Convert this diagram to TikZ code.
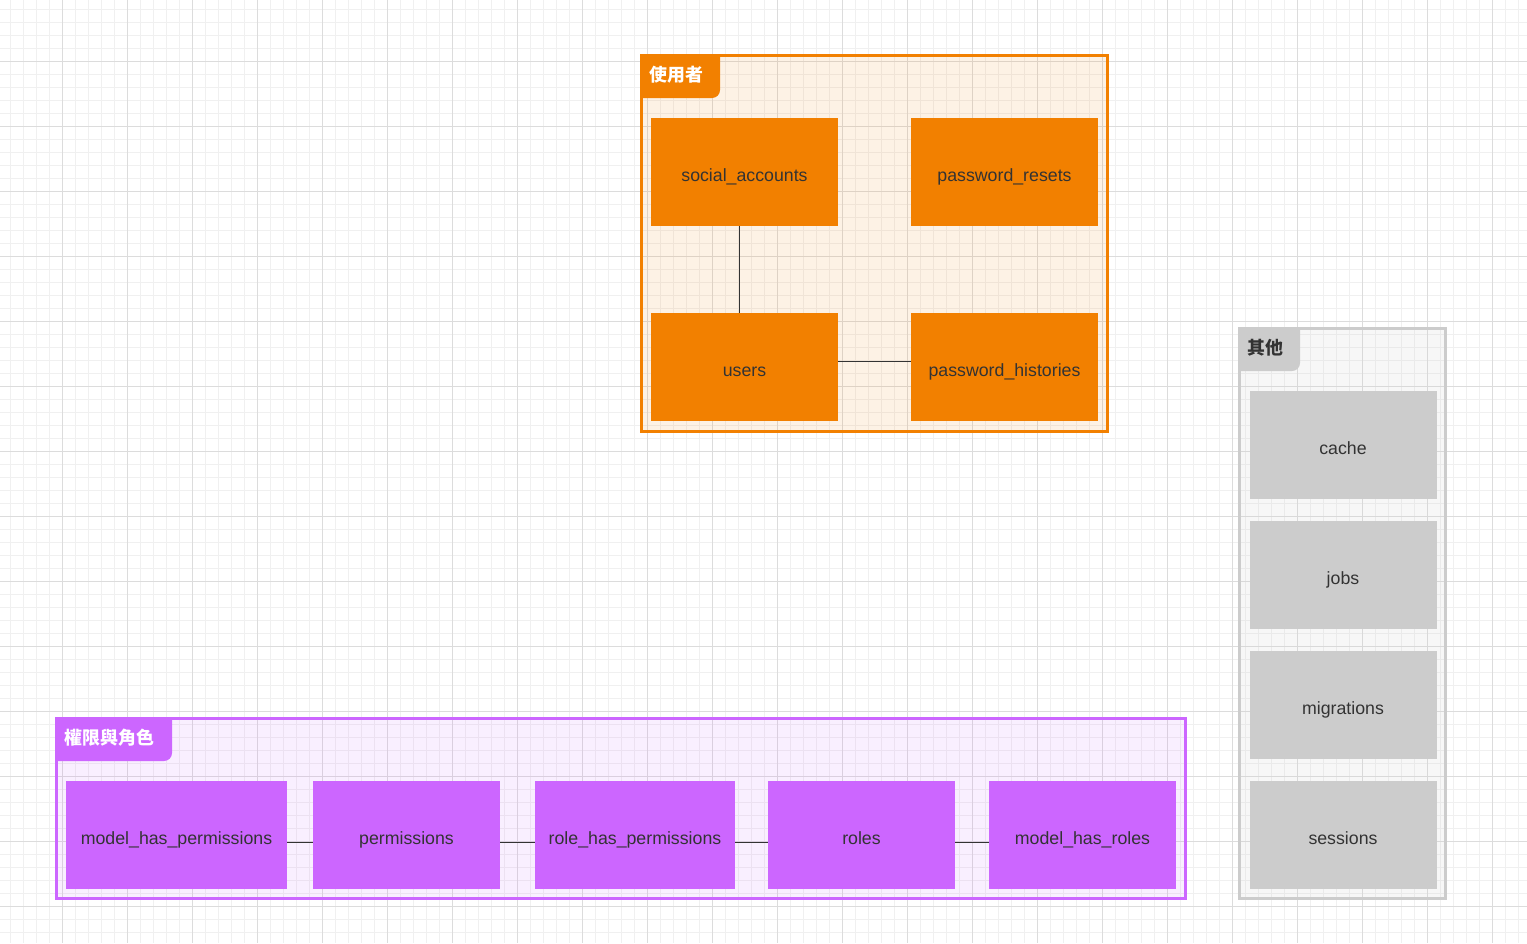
\documentclass[tikz,border=0pt]{standalone}
\usepackage{fontspec}
\setmainfont{Liberation Sans}
\newfontfamily\cjk{Noto Sans CJK TC}
\usepackage{xcolor}
\usetikzlibrary{calc}
\definecolor{userorange}{HTML}{F28000}
\definecolor{permpurple}{HTML}{CC66FF}
\definecolor{othergrey}{HTML}{CCCCCC}
\definecolor{labeltext}{HTML}{333333}
\definecolor{gridminor}{HTML}{F0F0F0}
\definecolor{gridmajor}{HTML}{DCDCDC}
\tikzset{
  tablebox/.style={rectangle,inner sep=0pt,minimum width=3.74cm,minimum height=2.16cm,
    text height=11.5pt,text depth=0.5pt,text=labeltext,font=\fontsize{10.1}{12}\selectfont},
  usertable/.style={tablebox,fill=userorange},
  permtable/.style={tablebox,fill=permpurple},
  othertable/.style={tablebox,fill=othergrey},
  groupframe/.style={line width=1.7pt},
  tablabel/.style={anchor=west,inner sep=0pt,font=\cjk\bfseries\fontsize{10.2}{12}\selectfont},
  link/.style={draw=labeltext,line width=0.55pt}
}

\begin{document}
\begin{tikzpicture}[x=0.02cm,y=-0.02cm]
\useasboundingbox (0,0) rectangle (1527,943);
\fill[white] (0,0) rectangle (1527,943);
\foreach \x in {10.3,23.3,...,1527} \draw[gridminor,line width=0.5pt] (\x,0) -- (\x,943);
\foreach \y in {9,22,...,943} \draw[gridminor,line width=0.5pt] (0,\y) -- (1527,\y);
\foreach \x in {62.3,127.3,...,1527} \draw[gridmajor,line width=0.5pt] (\x,0) -- (\x,943);
\foreach \y in {61,126,...,943} \draw[gridmajor,line width=0.5pt] (0,\y) -- (1527,\y);

\draw[groupframe,draw=userorange,fill=userorange,fill opacity=0.1] (641.5,55.5) rectangle (1107.5,431.5);
\fill[userorange] (640,54) -- (720,54) -- (720,80) [rounded corners=0.16cm] -- (720,98) -- (700,98) [sharp corners] -- (640,98) -- cycle;
\node[tablabel,text=white] (usertab) at (649,75) {使用者};
\node[usertable] (social) at (744.5,172) {social\_accounts};
\node[usertable] (resets) at (1004.5,172) {password\_resets};
\node[usertable] (users) at (744.5,367) {users};
\node[usertable] (histories) at (1004.5,367) {password\_histories};
\draw[link] ([xshift=-0.11cm]social.south) -- ([xshift=-0.11cm]users.north);
\draw[link] ([yshift=0.12cm]users.east) -- ([yshift=0.12cm]histories.west);

\draw[groupframe,draw=othergrey,fill=othergrey,fill opacity=0.15] (1239.5,328.5) rectangle (1445.5,898.5);
\fill[othergrey] (1238,327) -- (1300,327) -- (1300,350) [rounded corners=0.16cm] -- (1300,371) -- (1280,371) [sharp corners] -- (1238,371) -- cycle;
\node[tablabel,text=labeltext] (othertab) at (1247,348) {其他};
\node[othertable] (cache) at (1343,445) {cache};
\node[othertable] (jobs) at (1343,575) {jobs};
\node[othertable] (migrations) at (1343,705) {migrations};
\node[othertable] (sessions) at (1343,835) {sessions};

\draw[groupframe,draw=permpurple,fill=permpurple,fill opacity=0.1] (56.5,718.5) rectangle (1185.5,898.5);
\fill[permpurple] (55,717) -- (172,717) -- (172,740) [rounded corners=0.16cm] -- (172,761) -- (150,761) [sharp corners] -- (55,761) -- cycle;
\node[tablabel,text=white] (permtab) at (64,738) {權限與角色};
\node[permtable,minimum width=4.42cm] (mhp) at (176.5,835) {model\_has\_permissions};
\node[permtable] (perms) at (406.5,835) {permissions};
\node[permtable,minimum width=4cm] (rhp) at (635,835) {role\_has\_permissions};
\node[permtable] (roles) at (861.5,835) {roles};
\node[permtable] (mhr) at (1082.5,835) {model\_has\_roles};
\draw[link] ([yshift=-0.14cm]mhp.east) -- ([yshift=-0.14cm]perms.west);
\draw[link] ([yshift=-0.14cm]perms.east) -- ([yshift=-0.14cm]rhp.west);
\draw[link] ([yshift=-0.14cm]rhp.east) -- ([yshift=-0.14cm]roles.west);
\draw[link] ([yshift=-0.14cm]roles.east) -- ([yshift=-0.14cm]mhr.west);
\end{tikzpicture}
\end{document}
